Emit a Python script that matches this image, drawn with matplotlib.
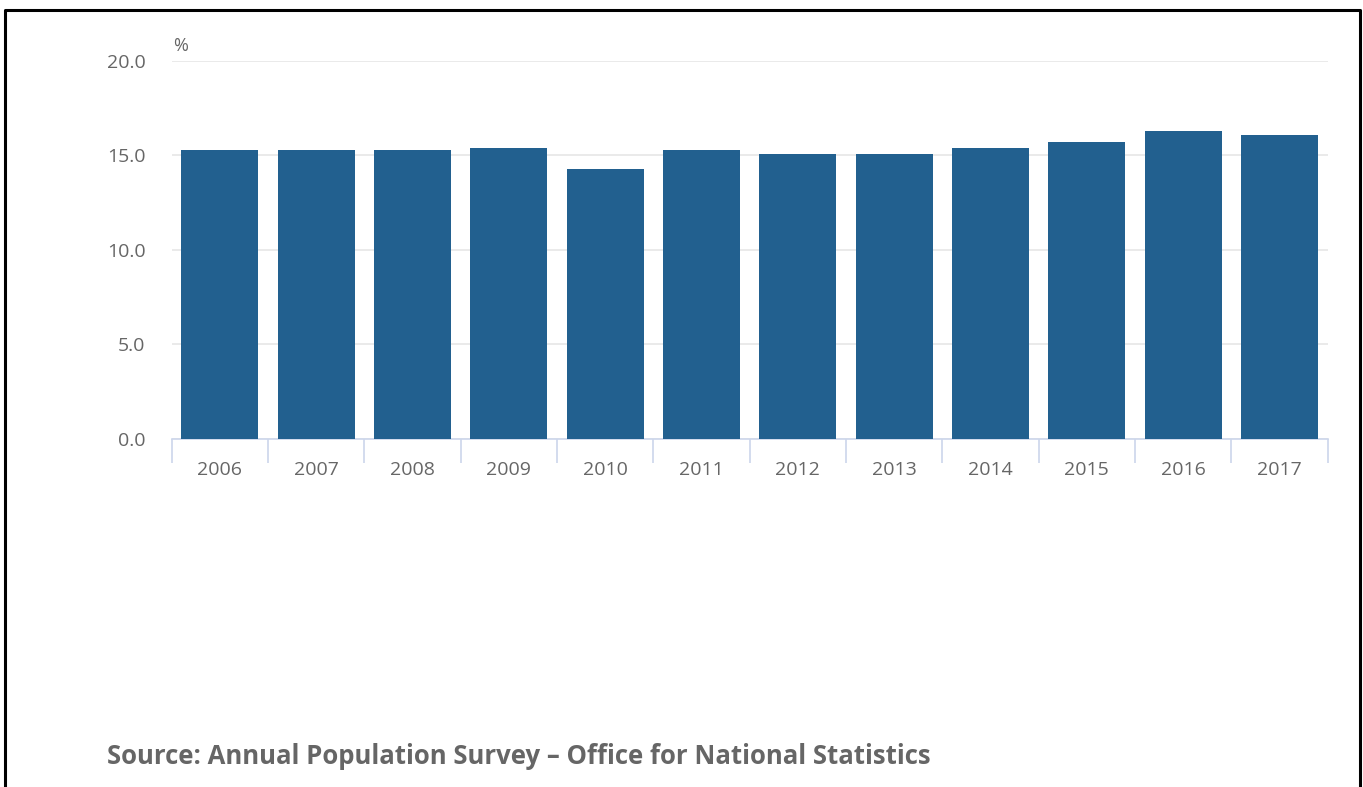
import matplotlib.pyplot as plt
import numpy as np
from matplotlib.lines import Line2D

years = ['2006', '2007', '2008', '2009', '2010', '2011',
         '2012', '2013', '2014', '2015', '2016', '2017']
rates = [15.3, 15.3, 15.3, 15.4, 14.3, 15.3, 15.1, 15.1, 15.4, 15.7, 16.3, 16.1]
y_ticks = [0, 5, 10, 15, 20]

bar_color = '#22608f'
text_color = '#666666'
axis_color = '#ccd6eb'

plt.rcParams['font.family'] = ['Open Sans', 'DejaVu Sans']

fig = plt.figure(figsize=(13.63, 7.87), dpi=100)
ax = fig.add_axes([0.126, 0.4422, 0.848, 0.4803])

x = np.arange(len(years))
ax.bar(x, rates, width=0.8, color=bar_color, zorder=3)

ax.set_xlim(-0.5, len(years) - 0.5)
ax.set_ylim(0, 20)
ax.set_yticks(y_ticks)
ax.set_yticklabels(['%.1f' % v for v in y_ticks])
ax.grid(axis='y', color='#e6e6e6', linewidth=1.2, zorder=0)
ax.tick_params(axis='y', length=0, pad=19, labelsize=14, labelcolor=text_color)

# category boundaries get the tick marks, labels sit at the centres
ax.set_xticks(np.arange(-0.5, len(years)), minor=False)
ax.set_xticklabels([])
ax.set_xticks(x, minor=True)
ax.set_xticklabels(years, minor=True)
ax.tick_params(axis='x', which='major', length=17, width=1.2, color=axis_color)
ax.tick_params(axis='x', which='minor', length=0, pad=16, labelsize=14, labelcolor=text_color)

for side in ['top', 'right', 'left']:
    ax.spines[side].set_visible(False)
ax.spines['bottom'].set_color(axis_color)
ax.spines['bottom'].set_linewidth(1.2)

fig.text(0.127, 0.941, '%', fontsize=13, color=text_color, va='center')
fig.text(0.0785, 0.029, 'Source: Annual Population Survey \u2013 Office for National Statistics',
         fontsize=18.5, fontweight='bold', color=text_color)

# frame around the picture (no bottom edge visible)
W, H = 1363, 787
xs = [5 / W, 5 / W, 1360 / W, 1360 / W]
ys = [0, 1 - 10 / H, 1 - 10 / H, 0]
fig.add_artist(Line2D(xs, ys, color='black', linewidth=2.2, transform=fig.transFigure))

fig.savefig('out.png', dpi=100)
